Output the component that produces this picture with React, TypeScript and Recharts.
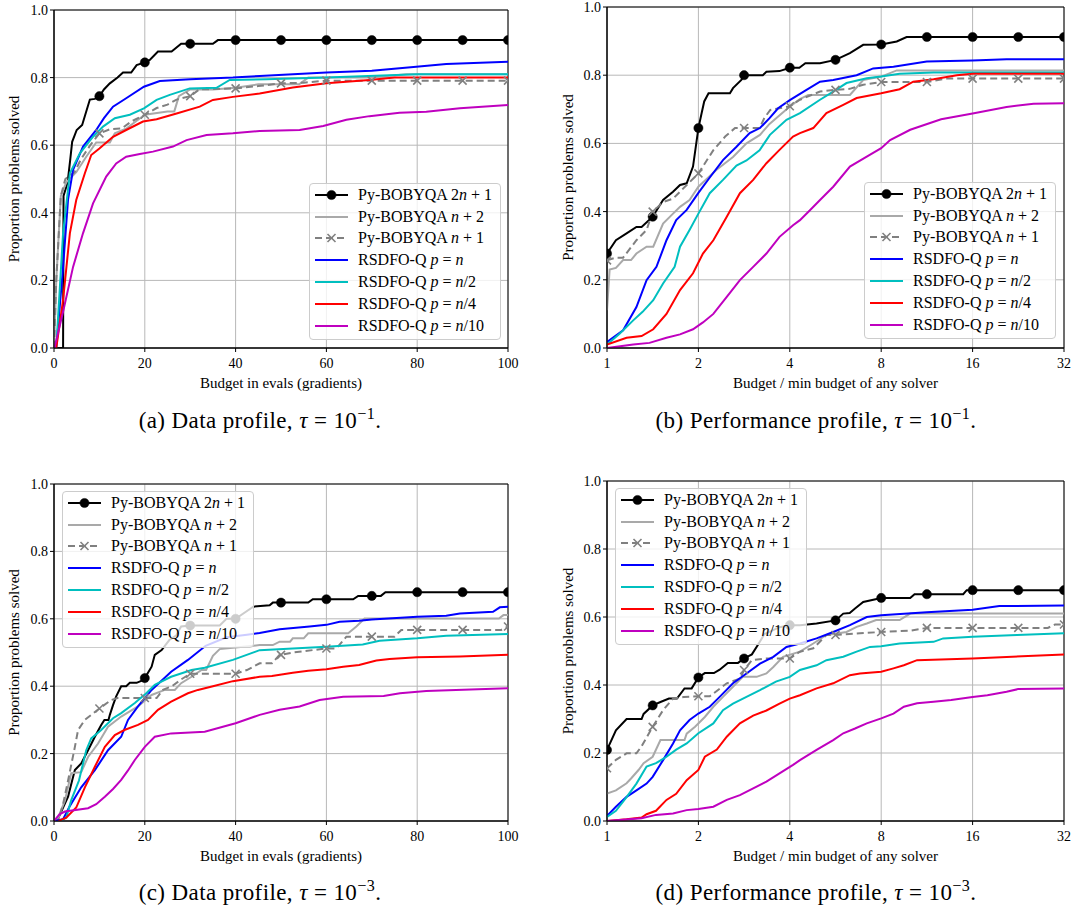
import React from 'react';
import { LineChart, Line, XAxis, YAxis, CartesianGrid, ReferenceArea, Legend } from 'recharts';

type Pt = [number, number];

// ---------- Panel (a): data profile, tau = 1e-1 ----------
const A_BOB_2N1: Pt[] = [[0,0],[2,0],[2.1,0.45],[3,0.49],[3.6,0.56],[4,0.61],[5,0.645],[6.2,0.66],[7.9,0.735],[9,0.737],[10,0.745],[11,0.765],[12.3,0.783],[14,0.80],[15.2,0.815],[17,0.815],[18.2,0.837],[20,0.845],[21.1,0.852],[22.9,0.877],[25.9,0.877],[28,0.90],[30,0.90],[35,0.90],[36.1,0.911],[40,0.911],[50,0.911],[60,0.911],[70,0.911],[80,0.911],[90,0.911],[100,0.911]];
const A_BOB_N2: Pt[] = [[0,0],[0.5,0.2],[1.5,0.45],[2.7,0.49],[4.9,0.52],[7.1,0.566],[9.3,0.608],[12.3,0.608],[13.4,0.635],[16,0.65],[18,0.67],[20,0.69],[25,0.70],[26.5,0.70],[27.5,0.745],[30,0.765],[35,0.765],[40,0.77],[45,0.78],[54,0.78],[56,0.80],[70,0.80],[77.6,0.81],[100,0.81]];
const A_BOB_N1: Pt[] = [[0,0],[0.5,0.2],[1.5,0.45],[2.5,0.50],[4.5,0.52],[6,0.56],[8,0.60],[10,0.635],[12.3,0.647],[15,0.65],[17,0.67],[20,0.69],[22.6,0.71],[25,0.72],[27,0.735],[30,0.745],[32,0.765],[40,0.768],[45,0.775],[50,0.783],[55,0.785],[60,0.791],[70,0.791],[80,0.791],[90,0.791],[100,0.791]];
const A_RS_N: Pt[] = [[0.5,0],[2,0.24],[3.1,0.44],[4.2,0.527],[6.4,0.596],[9.3,0.645],[11,0.68],[13,0.714],[15.9,0.739],[19.8,0.773],[23.3,0.79],[30,0.795],[39.4,0.80],[45.3,0.805],[60,0.815],[70,0.82],[79.8,0.832],[86.4,0.84],[100,0.847]];
const A_RS_N2: Pt[] = [[0.5,0],[2,0.34],[3.5,0.517],[5.7,0.576],[8.6,0.625],[10.8,0.655],[13.4,0.68],[16.7,0.69],[19.8,0.709],[22.6,0.734],[25.5,0.749],[29.9,0.768],[35.8,0.77],[38.7,0.793],[46.8,0.795],[60,0.80],[80,0.81],[100,0.81]];
const A_RS_N4: Pt[] = [[0.5,0],[2,0.142],[3.5,0.34],[4.9,0.438],[6.8,0.517],[8.2,0.571],[10,0.59],[13,0.625],[15.9,0.645],[19.6,0.67],[22.6,0.677],[27,0.694],[32.1,0.714],[35,0.734],[39.4,0.743],[45.3,0.753],[52.6,0.771],[60,0.783],[69.5,0.793],[75,0.80],[100,0.80]];
const A_RS_N10: Pt[] = [[0.1,0],[2,0.107],[4.2,0.24],[6.4,0.34],[8.6,0.428],[11.5,0.507],[13.7,0.546],[15.9,0.566],[18.9,0.574],[21.8,0.581],[26.2,0.596],[29.2,0.615],[33.6,0.63],[39.4,0.635],[45.3,0.642],[54.1,0.645],[59.3,0.657],[64.4,0.675],[69.5,0.686],[76.1,0.696],[82,0.699],[89.4,0.709],[100,0.719]];

// ---------- Panel (b): performance profile, tau = 1e-1 ----------
const B_BOB_2N1: Pt[] = [[1,0.277],[1.07,0.316],[1.16,0.336],[1.25,0.355],[1.3,0.355],[1.414,0.385],[1.53,0.434],[1.65,0.458],[1.74,0.478],[1.83,0.483],[1.92,0.532],[2,0.645],[2.05,0.689],[2.09,0.723],[2.16,0.747],[2.54,0.747],[2.6,0.762],[2.77,0.786],[2.828,0.80],[3.26,0.80],[3.35,0.81],[3.7,0.812],[4,0.822],[4.3,0.822],[4.5,0.835],[5.03,0.835],[5.657,0.845],[6.31,0.865],[6.98,0.889],[8,0.89],[9,0.899],[9.7,0.912],[11.314,0.912],[16,0.912],[22.627,0.912],[32,0.912]];
const B_BOB_N2: Pt[] = [[1,0.111],[1.02,0.23],[1.07,0.235],[1.13,0.258],[1.2,0.258],[1.25,0.277],[1.35,0.297],[1.42,0.297],[1.53,0.365],[1.65,0.394],[1.74,0.414],[1.87,0.434],[2,0.473],[2.29,0.522],[2.6,0.56],[2.88,0.60],[3.19,0.625],[3.43,0.657],[4,0.708],[4.32,0.73],[4.6,0.742],[6.31,0.742],[6.98,0.786],[8,0.796],[9,0.814],[32,0.814]];
const B_BOB_N1: Pt[] = [[1,0.257],[1.07,0.265],[1.13,0.265],[1.25,0.316],[1.35,0.346],[1.414,0.40],[1.53,0.428],[1.65,0.438],[1.83,0.478],[2,0.512],[2.24,0.58],[2.45,0.62],[2.64,0.645],[2.828,0.645],[3.18,0.645],[3.3,0.675],[3.45,0.698],[4,0.709],[4.32,0.728],[5.03,0.752],[5.657,0.757],[6.3,0.76],[6.98,0.772],[8,0.78],[11.314,0.78],[13,0.79],[16,0.79],[22.627,0.79],[32,0.79]];
const B_RS_N: Pt[] = [[1,0.018],[1.13,0.052],[1.25,0.12],[1.35,0.199],[1.455,0.238],[1.57,0.316],[1.69,0.375],[1.83,0.405],[2,0.455],[2.18,0.5],[2.41,0.551],[2.67,0.59],[2.95,0.63],[3.19,0.645],[3.43,0.674],[3.66,0.703],[4,0.727],[4.54,0.757],[5.03,0.781],[5.56,0.786],[6.64,0.80],[7.53,0.82],[8.78,0.825],[11.3,0.84],[16,0.843],[20.7,0.847],[32,0.847]];
const B_RS_N2: Pt[] = [[1,0.01],[1.1,0.042],[1.22,0.081],[1.31,0.106],[1.42,0.14],[1.53,0.189],[1.67,0.238],[1.74,0.297],[1.87,0.346],[2,0.394],[2.18,0.454],[2.41,0.493],[2.67,0.535],[2.88,0.55],[3.18,0.58],[3.44,0.625],[3.9,0.669],[4.32,0.689],[5.03,0.728],[5.56,0.752],[6.15,0.777],[7.17,0.791],[8,0.796],[9.2,0.804],[11.9,0.808],[32,0.808]];
const B_RS_N4: Pt[] = [[1,0.01],[1.16,0.03],[1.3,0.035],[1.42,0.055],[1.57,0.10],[1.74,0.17],[1.92,0.219],[2.07,0.277],[2.24,0.316],[2.48,0.385],[2.74,0.454],[3.03,0.493],[3.35,0.542],[3.7,0.581],[4.1,0.62],[4.32,0.63],[4.78,0.645],[5.28,0.689],[6,0.713],[6.64,0.733],[8,0.747],[9.2,0.759],[10.2,0.781],[11.9,0.788],[14.2,0.80],[16,0.804],[32,0.804]];
const B_RS_N10: Pt[] = [[1,0],[1.22,0.01],[1.38,0.015],[1.57,0.03],[1.74,0.04],[1.92,0.055],[2.07,0.075],[2.24,0.10],[2.48,0.15],[2.74,0.199],[3.03,0.238],[3.35,0.277],[3.7,0.326],[4.1,0.36],[4.32,0.375],[4.66,0.404],[5.03,0.434],[5.56,0.473],[6.31,0.532],[7.17,0.561],[8,0.586],[8.56,0.61],[9.97,0.64],[12.6,0.671],[16,0.688],[20.7,0.707],[25.4,0.716],[32,0.718]];

// ---------- Panel (c): data profile, tau = 1e-3 ----------
const C_BOB_2N1: Pt[] = [[0,0],[1,0.01],[2,0.04],[3.1,0.072],[4,0.12],[4.6,0.151],[6,0.171],[7.5,0.21],[9,0.25],[10.4,0.285],[11.1,0.30],[12,0.30],[12.3,0.315],[13,0.344],[13.7,0.37],[14.8,0.40],[15.9,0.40],[16.7,0.41],[18.2,0.41],[19.6,0.418],[20,0.424],[21.5,0.458],[22.2,0.493],[23.7,0.507],[25.4,0.537],[26.9,0.55],[28,0.577],[30,0.58],[36.5,0.58],[38,0.60],[40,0.60],[43.9,0.636],[47.5,0.64],[48.2,0.648],[50,0.648],[56,0.648],[57,0.658],[60,0.658],[65.9,0.658],[67,0.668],[70,0.668],[72,0.668],[73,0.679],[80,0.679],[90,0.679],[100,0.679]];
const C_BOB_N2: Pt[] = [[0,0],[1,0.01],[1.5,0.03],[2.4,0.06],[3.8,0.142],[6,0.145],[7.5,0.19],[9.7,0.23],[11.9,0.28],[14.8,0.31],[18.5,0.34],[21.5,0.374],[24.4,0.389],[26.6,0.389],[28,0.409],[30.3,0.428],[32.5,0.448],[33.5,0.448],[35,0.49],[36.5,0.51],[40,0.515],[45.3,0.522],[48.2,0.522],[49.7,0.532],[52,0.532],[52.6,0.542],[55,0.542],[56,0.557],[64.8,0.557],[66.6,0.577],[68.4,0.601],[98,0.601],[99,0.611],[100,0.611]];
const C_BOB_N1: Pt[] = [[0,0],[0.9,0],[2,0.05],[3.1,0.12],[4.6,0.22],[5.3,0.27],[6.8,0.30],[10,0.334],[12.6,0.359],[14,0.365],[20,0.365],[22.6,0.365],[24,0.389],[26,0.40],[28,0.42],[30,0.437],[35,0.437],[40,0.437],[42.5,0.448],[45.3,0.468],[48,0.468],[49.7,0.493],[50,0.493],[52.6,0.50],[60,0.512],[62.2,0.512],[64.4,0.547],[70,0.547],[75,0.547],[76.5,0.567],[80,0.567],[90,0.567],[98.5,0.567],[100,0.577]];
const C_RS_N: Pt[] = [[0,0],[2,0.005],[3.4,0.042],[6,0.10],[9,0.151],[11.9,0.21],[14.8,0.25],[16.3,0.30],[18.5,0.34],[21.5,0.389],[25.8,0.443],[29.5,0.478],[33.4,0.52],[38,0.545],[42.5,0.553],[45.3,0.558],[49.7,0.569],[56.3,0.577],[60,0.582],[62.9,0.591],[67.2,0.594],[70,0.598],[80,0.606],[86.4,0.609],[89.4,0.616],[96.7,0.621],[98.2,0.634],[100,0.636]];
const C_RS_N2: Pt[] = [[1.5,0],[2.7,0.01],[3.8,0.062],[5.5,0.12],[7.1,0.21],[8.2,0.245],[10.4,0.27],[13,0.305],[14.8,0.32],[17.8,0.35],[20,0.375],[22.2,0.404],[25.8,0.428],[30.3,0.448],[33.2,0.455],[39.4,0.478],[45.3,0.507],[52.6,0.512],[60,0.517],[68,0.524],[71.7,0.535],[80,0.542],[86.4,0.55],[100,0.555]];
const C_RS_N4: Pt[] = [[1,0],[2.7,0.01],[4.9,0.04],[6.8,0.10],[9,0.161],[11.2,0.22],[13.4,0.255],[15.5,0.27],[18.5,0.285],[20.7,0.30],[22.9,0.33],[25.8,0.354],[29.5,0.379],[31.7,0.389],[35,0.40],[39.4,0.415],[45.3,0.428],[48,0.43],[52.6,0.44],[56,0.446],[60,0.45],[63.7,0.458],[67.2,0.463],[71,0.476],[73.9,0.481],[80,0.486],[89.4,0.488],[100,0.493]];
const C_RS_N10: Pt[] = [[0,0],[1.2,0.02],[2.4,0.028],[7.5,0.038],[9.3,0.05],[11.2,0.072],[13,0.095],[14.8,0.122],[16.3,0.15],[17.8,0.181],[20,0.22],[22.2,0.25],[25.8,0.26],[33.2,0.265],[36,0.275],[40,0.29],[45.3,0.315],[49.7,0.33],[54.1,0.34],[58.5,0.359],[63.7,0.369],[72.6,0.371],[76.2,0.379],[82,0.386],[100,0.394]];

// ---------- Panel (d): performance profile, tau = 1e-3 ----------
const D_BOB_2N1: Pt[] = [[1,0.209],[1.07,0.267],[1.16,0.30],[1.3,0.30],[1.32,0.315],[1.414,0.34],[1.5,0.35],[1.6,0.36],[1.7,0.36],[1.8,0.39],[1.9,0.39],[2,0.422],[2.1,0.435],[2.25,0.435],[2.35,0.445],[2.5,0.465],[2.7,0.465],[2.828,0.478],[3,0.49],[3.15,0.52],[3.3,0.55],[3.5,0.56],[3.7,0.57],[4,0.576],[4.32,0.576],[4.9,0.581],[5.657,0.59],[6,0.61],[6.3,0.612],[6.56,0.625],[6.98,0.644],[8,0.656],[9.97,0.656],[10.3,0.667],[11.314,0.667],[14.9,0.667],[15.3,0.679],[16,0.679],[22.627,0.679],[32,0.679]];
const D_BOB_N2: Pt[] = [[1,0.081],[1.07,0.09],[1.16,0.111],[1.2,0.125],[1.27,0.15],[1.32,0.17],[1.414,0.189],[1.5,0.238],[1.8,0.238],[1.83,0.257],[1.95,0.277],[2.1,0.306],[2.24,0.336],[2.41,0.365],[2.6,0.395],[2.8,0.424],[3.11,0.424],[3.35,0.434],[3.53,0.453],[3.8,0.483],[4.32,0.498],[4.78,0.522],[5.28,0.547],[6.15,0.556],[6.64,0.571],[7.17,0.581],[7.7,0.591],[9.2,0.591],[9.97,0.61],[32,0.61]];
const D_BOB_N1: Pt[] = [[1,0.155],[1.07,0.18],[1.16,0.199],[1.25,0.199],[1.3,0.22],[1.414,0.277],[1.53,0.326],[1.65,0.36],[1.79,0.365],[2,0.367],[2.18,0.367],[2.48,0.405],[2.74,0.419],[2.828,0.444],[3,0.473],[3.35,0.478],[4,0.478],[4.32,0.498],[4.78,0.508],[5.28,0.547],[5.657,0.547],[6.81,0.552],[8,0.556],[10,0.56],[11.314,0.568],[16,0.568],[22.627,0.568],[28.3,0.568],[29.9,0.578],[32,0.578]];
const D_RS_N: Pt[] = [[1,0.015],[1.07,0.042],[1.16,0.071],[1.25,0.09],[1.35,0.11],[1.414,0.13],[1.53,0.179],[1.65,0.228],[1.74,0.267],[1.87,0.297],[2,0.316],[2.18,0.336],[2.35,0.365],[2.6,0.405],[2.88,0.434],[3.19,0.463],[3.53,0.483],[3.9,0.512],[4.32,0.522],[4.9,0.537],[5.56,0.556],[6.31,0.576],[7.17,0.60],[8,0.605],[11.3,0.614],[16,0.621],[19.6,0.632],[32,0.634]];
const D_RS_N2: Pt[] = [[1,0.012],[1.07,0.03],[1.16,0.07],[1.25,0.11],[1.35,0.16],[1.45,0.17],[1.57,0.189],[1.69,0.21],[1.83,0.228],[2,0.258],[2.24,0.287],[2.41,0.326],[2.6,0.345],[2.88,0.365],[3.19,0.385],[3.6,0.41],[4,0.424],[4.32,0.444],[4.9,0.458],[5.28,0.473],[6,0.483],[6.64,0.498],[7.35,0.512],[8,0.514],[9.2,0.522],[11.9,0.527],[12.8,0.537],[16,0.542],[22.4,0.547],[32,0.552]];
const D_RS_N4: Pt[] = [[1,0],[1.16,0.005],[1.3,0.01],[1.35,0.02],[1.45,0.03],[1.57,0.062],[1.69,0.08],[1.83,0.12],[2,0.15],[2.1,0.189],[2.3,0.21],[2.48,0.248],[2.74,0.287],[3.03,0.31],[3.35,0.325],[3.7,0.345],[4,0.36],[4.32,0.37],[4.9,0.39],[5.56,0.405],[6.31,0.429],[6.81,0.434],[8,0.439],[8.78,0.449],[9.5,0.458],[10.5,0.473],[16,0.478],[32,0.49]];
const D_RS_N10: Pt[] = [[1,0],[1.3,0.008],[1.45,0.018],[1.65,0.022],[1.83,0.032],[2,0.035],[2.24,0.042],[2.48,0.062],[2.74,0.076],[3.03,0.096],[3.35,0.116],[3.7,0.14],[4.1,0.165],[4.32,0.179],[4.9,0.209],[5.56,0.238],[6,0.258],[6.56,0.272],[7.17,0.287],[8,0.302],[8.78,0.316],[9.5,0.336],[10.5,0.346],[11.9,0.351],[13.6,0.356],[16,0.365],[17.9,0.37],[20.7,0.38],[22.6,0.388],[32,0.39]];

// ---------- ticks, markers, labels ----------
const DATA_TICKS = [0, 20, 40, 60, 80, 100];
const PERF_TICKS = [1, 2, 4, 8, 16, 32];
const Y_TICKS = [0, 0.2, 0.4, 0.6, 0.8, 1.0];
const DATA_MARKS = [10, 20, 30, 40, 50, 60, 70, 80, 90, 100];
const DATA_MARKS_C_CIRCLE = [20, 30, 40, 50, 60, 70, 80, 90, 100];
const PERF_MARKS = [1, 1.414, 2, 2.828, 4, 5.657, 8, 11.314, 16, 22.627, 32];

const LEGEND_LABELS = [
  'Py-BOBYQA 2{n} + 1',
  'Py-BOBYQA {n} + 2',
  'Py-BOBYQA {n} + 1',
  'RSDFO-Q {p} = {n}',
  'RSDFO-Q {p} = {n}/2',
  'RSDFO-Q {p} = {n}/4',
  'RSDFO-Q {p} = {n}/10',
];
const DATA_XLABEL = 'Budget in evals (gradients)';
const PERF_XLABEL = 'Budget / min budget of any solver';
const Y_LABEL = 'Proportion problems solved';
const CAPTIONS = [
  { tag: '(a)', text: 'Data profile, ', exp: '−1' },
  { tag: '(b)', text: 'Performance profile, ', exp: '−1' },
  { tag: '(c)', text: 'Data profile, ', exp: '−3' },
  { tag: '(d)', text: 'Performance profile, ', exp: '−3' },
];

const STYLES = [
  { color: '#000000', dash: undefined as string | undefined, marker: 'o' },
  { color: '#a9a9a9', dash: undefined, marker: '' },
  { color: '#808080', dash: '7 4', marker: 'x' },
  { color: '#0000ff', dash: undefined, marker: '' },
  { color: '#00bfbf', dash: undefined, marker: '' },
  { color: '#ff0000', dash: undefined, marker: '' },
  { color: '#bf00bf', dash: undefined, marker: '' },
];

const FONT = "'Liberation Serif', 'Times New Roman', serif";

function toObjs(arr: Pt[]) {
  return arr.map(([x, y]) => ({ x, y }));
}

function isMark(x: number, marks: number[]) {
  return marks.some((m) => Math.abs(x - m) < 1e-3 * Math.max(1, m));
}

function markerShape(kind: string, cx: number, cy: number, color: string, key?: string) {
  if (kind === 'o') return <circle key={key} cx={cx} cy={cy} r={4.6} fill={color} stroke={color} strokeWidth={0.5} />;
  const s = 4;
  return (
    <path
      key={key}
      d={`M${cx - s},${cy - s}L${cx + s},${cy + s}M${cx - s},${cy + s}L${cx + s},${cy - s}`}
      stroke={color}
      strokeWidth={1.6}
      fill="none"
    />
  );
}

function makeDot(kind: string, color: string, marks: number[]) {
  return (p: any) => {
    const key = `dot-${p.index}`;
    if (!p || p.payload == null || p.cx == null || !isMark(p.payload.x, marks)) return <g key={key} />;
    return markerShape(kind, p.cx, p.cy, color, key);
  };
}

function renderLabel(s: string) {
  const parts = s.split(/(\{[^}]*\})/g).filter((t) => t.length > 0);
  return parts.map((t, i) =>
    t.startsWith('{') ? (
      <i key={i}>{t.slice(1, -1)}</i>
    ) : (
      <span key={i} style={{ whiteSpace: 'pre' }}>{t}</span>
    ),
  );
}

function LegendBox() {
  return (
    <div
      style={{
        width: 192,
        height: 157,
        boxSizing: 'border-box',
        border: '1px solid #cccccc',
        borderRadius: 4,
        background: 'rgba(255,255,255,0.8)',
        fontFamily: FONT,
        fontSize: 16,
        color: '#000',
        paddingLeft: 5,
      }}
    >
      {LEGEND_LABELS.map((lab, i) => {
        const st = STYLES[i];
        return (
          <div key={i} style={{ height: 21.8, display: 'flex', alignItems: 'center' }}>
            <svg width={33} height={12} style={{ marginRight: 10, overflow: 'visible', flex: 'none' }}>
              <line x1={0} y1={6} x2={33} y2={6} stroke={st.color} strokeWidth={2} strokeDasharray={st.dash} />
              {st.marker ? markerShape(st.marker, 16.5, 6, st.color) : null}
            </svg>
            <span style={{ whiteSpace: 'nowrap' }}>{renderLabel(lab)}</span>
          </div>
        );
      })}
    </div>
  );
}

type PanelProps = {
  left: number;
  top: number;
  width: number;
  height: number;
  marginTop: number;
  marginRight: number;
  yAxisWidth: number;
  xAxisHeight: number;
  perf: boolean;
  series: Pt[][];
  legendLeft: number;
  legendTop: number;
  yLabelX: number;
  circleMarks?: number[];
};

function Panel(props: PanelProps) {
  const { left, top, width, height, marginTop, marginRight, yAxisWidth, xAxisHeight, perf, series, legendLeft, legendTop, yLabelX } = props;
  const plotLeft = yAxisWidth;
  const plotRight = width - marginRight;
  const plotTop = marginTop;
  const plotBottom = height - xAxisHeight;
  const xDomain: [number, number] = perf ? [1, 32] : [0, 100];
  const marks = perf ? PERF_MARKS : DATA_MARKS;
  const circleMarks = props.circleMarks || marks;
  const tickStyle = { fontSize: 14, fill: '#000', fontFamily: FONT };

  const xLabel = () => (
    <text
      x={(plotLeft + plotRight) / 2}
      y={plotBottom + 35}
      textAnchor="middle"
      dominantBaseline="central"
      fontSize={15}
      fontFamily={FONT}
      fill="#000"
    >
      {perf ? PERF_XLABEL : DATA_XLABEL}
    </text>
  );
  const yLabel = () => {
    const cy = (plotTop + plotBottom) / 2;
    return (
      <text
        x={yLabelX}
        y={cy}
        transform={`rotate(-90, ${yLabelX}, ${cy})`}
        textAnchor="middle"
        dominantBaseline="central"
        fontSize={15}
        fontFamily={FONT}
        fill="#000"
      >
        {Y_LABEL}
      </text>
    );
  };

  return (
    <div style={{ position: 'absolute', left, top, width, height }}>
      <LineChart width={width} height={height} margin={{ top: marginTop, right: marginRight, bottom: 0, left: 0 }}>
        <CartesianGrid stroke="#b8b8b8" strokeWidth={1} />
        <XAxis
          dataKey="x"
          type="number"
          scale={perf ? 'log' : 'linear'}
          domain={xDomain}
          ticks={perf ? PERF_TICKS : DATA_TICKS}
          interval={0}
          allowDataOverflow
          height={xAxisHeight}
          tick={tickStyle}
          tickSize={4}
          tickMargin={6}
          tickLine={{ stroke: '#000' }}
          axisLine={{ stroke: '#000' }}
          label={xLabel}
        />
        <YAxis
          type="number"
          domain={[0, 1]}
          ticks={Y_TICKS}
          interval={0}
          allowDataOverflow
          width={yAxisWidth}
          tick={tickStyle}
          tickSize={4}
          tickMargin={2}
          tickFormatter={(v: number) => v.toFixed(1)}
          tickLine={{ stroke: '#000' }}
          axisLine={{ stroke: '#000' }}
          label={yLabel}
        />
        {series.map((arr, i) => {
          const st = STYLES[i];
          const mk = st.marker === 'o' ? circleMarks : marks;
          return (
            <Line
              key={i}
              data={toObjs(arr)}
              dataKey="y"
              type="linear"
              stroke={st.color}
              strokeWidth={2}
              strokeDasharray={st.dash}
              dot={st.marker ? makeDot(st.marker, st.color, mk) : false}
              activeDot={false}
              isAnimationActive={false}
            />
          );
        })}
        <ReferenceArea x1={xDomain[0]} x2={xDomain[1]} y1={0} y2={1} fill="none" stroke="#000" strokeWidth={1} ifOverflow="visible" />
        <Legend
          layout="vertical"
          align="center"
          verticalAlign="middle"
          wrapperStyle={{ left: legendLeft, top: legendTop, width: 192, height: 157 }}
          content={() => <LegendBox />}
        />
      </LineChart>
    </div>
  );
}

function Caption({ cx, cy, idx }: { cx: number; cy: number; idx: number }) {
  const c = CAPTIONS[idx];
  return (
    <div
      style={{
        position: 'absolute',
        left: cx - 250,
        top: cy - 15,
        width: 500,
        textAlign: 'center',
        fontSize: 23,
        letterSpacing: 0.4,
        lineHeight: '30px',
        fontFamily: FONT,
        color: '#000',
        whiteSpace: 'nowrap',
      }}
    >
      {c.tag} {c.text}
      <i>τ</i> = 10
      <span style={{ fontSize: '0.7em', position: 'relative', top: '-0.55em' }}>{c.exp}</span>.
    </div>
  );
}

export default function App() {
  return (
    <div style={{ position: 'absolute', left: 0, top: 0, width: 1075, height: 914, background: '#fff', fontFamily: FONT, overflow: 'hidden' }}>
      <Panel
        left={0} top={0} width={530} height={400}
        marginTop={10} marginRight={22} yAxisWidth={54} xAxisHeight={52}
        perf={false}
        series={[A_BOB_2N1, A_BOB_N2, A_BOB_N1, A_RS_N, A_RS_N2, A_RS_N4, A_RS_N10]}
        legendLeft={309} legendTop={183} yLabelX={14}
      />
      <Panel
        left={540} top={0} width={535} height={400}
        marginTop={7} marginRight={11} yAxisWidth={67} xAxisHeight={52}
        perf={true}
        series={[B_BOB_2N1, B_BOB_N2, B_BOB_N1, B_RS_N, B_RS_N2, B_RS_N4, B_RS_N10]}
        legendLeft={324} legendTop={182} yLabelX={27.5}
      />
      <Panel
        left={0} top={470} width={530} height={400}
        marginTop={14} marginRight={22} yAxisWidth={54} xAxisHeight={49}
        perf={false}
        series={[C_BOB_2N1, C_BOB_N2, C_BOB_N1, C_RS_N, C_RS_N2, C_RS_N4, C_RS_N10]}
        legendLeft={62} legendTop={21} yLabelX={14}
        circleMarks={DATA_MARKS_C_CIRCLE}
      />
      <Panel
        left={540} top={470} width={535} height={400}
        marginTop={11} marginRight={11} yAxisWidth={67} xAxisHeight={49}
        perf={true}
        series={[D_BOB_2N1, D_BOB_N2, D_BOB_N1, D_RS_N, D_RS_N2, D_RS_N4, D_RS_N10]}
        legendLeft={75} legendTop={18} yLabelX={27.5}
      />
      <Caption cx={260} cy={421} idx={0} />
      <Caption cx={816} cy={421} idx={1} />
      <Caption cx={260} cy={893} idx={2} />
      <Caption cx={816} cy={893} idx={3} />
    </div>
  );
}
